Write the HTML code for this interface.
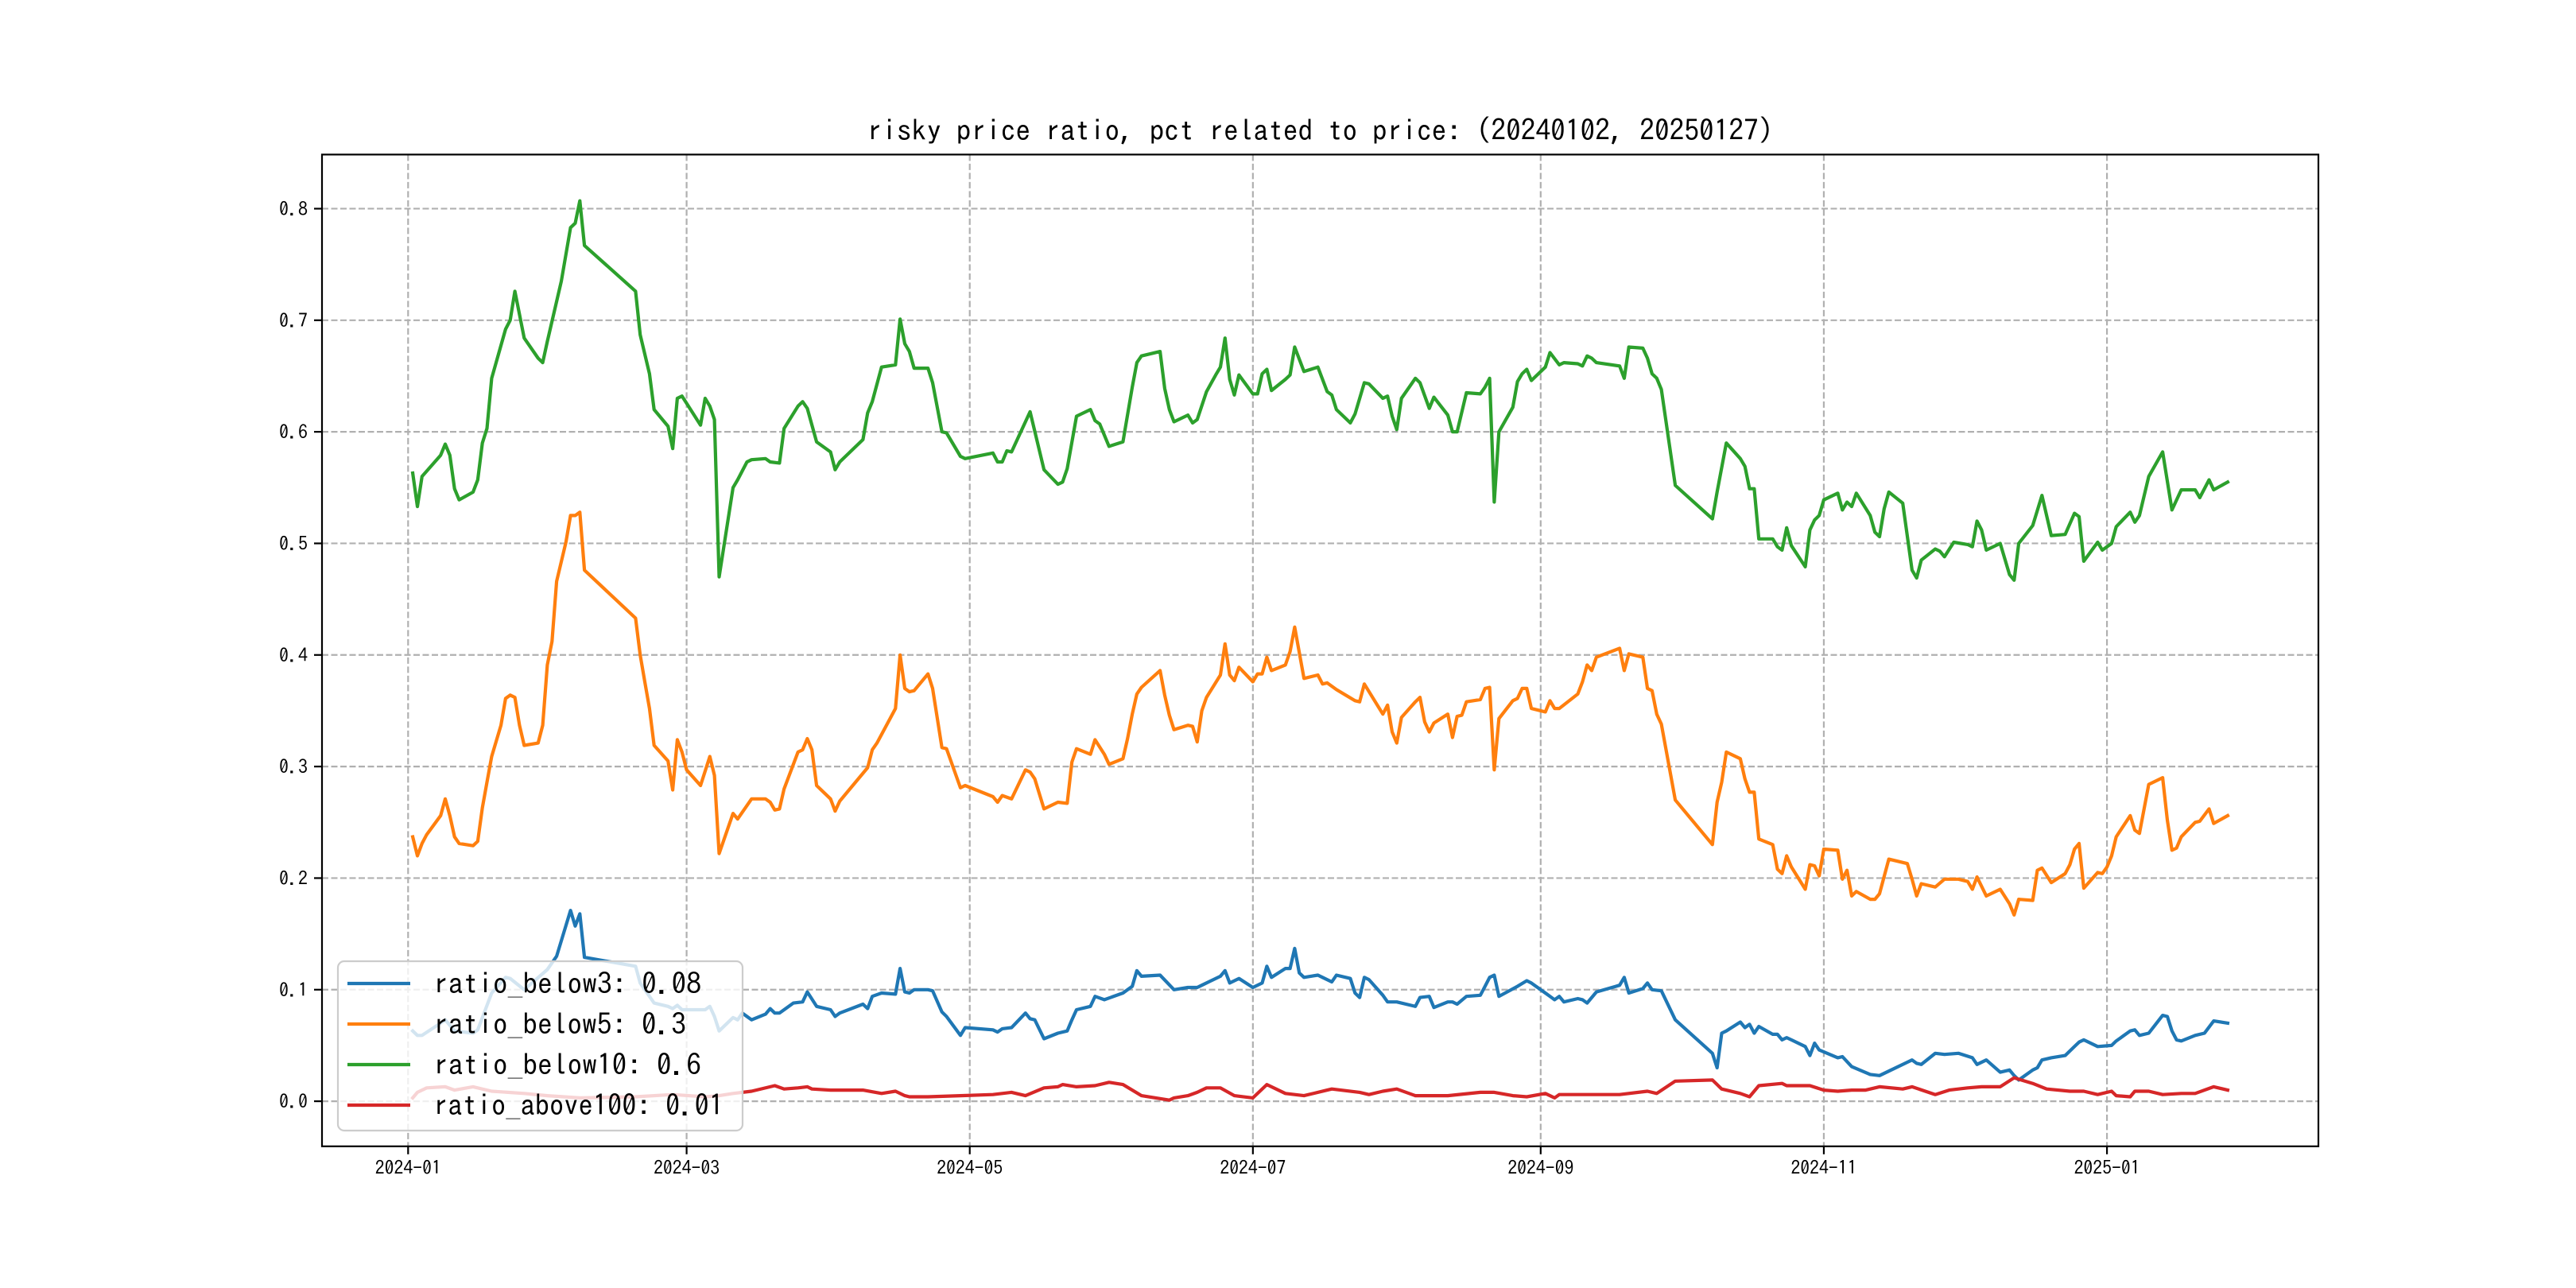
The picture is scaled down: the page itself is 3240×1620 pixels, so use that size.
<!DOCTYPE html>
<html><head><meta charset="utf-8"><style>
html,body{margin:0;padding:0;background:#fff;}
svg{display:block;}
text{font-family:"IPAGothic","WenQuanYi Zen Hei","Liberation Mono",monospace;}
.cj{font-family:"IPAGothic","WenQuanYi Zen Hei","Liberation Mono",monospace;}
</style></head><body>
<svg id="chart" width="3240" height="1620" viewBox="0 0 3240 1620" xmlns="http://www.w3.org/2000/svg">
<rect x="0" y="0" width="3240" height="1620" fill="#fff"/>
<text class="cj" x="1660.5" y="177" text-anchor="middle" font-size="37" textLength="1140" lengthAdjust="spacingAndGlyphs">risky price ratio, pct related to price: (20240102, 20250127)</text>
<g id="grid"></g>
<g id="series"></g>
<rect x="405" y="194.4" width="2511" height="1247.4" fill="none" stroke="#000" stroke-width="2.2"/>
<g id="ticks"></g>
<g id="legend"></g>
</svg>
<script>
// x values: days since 2024-01-01
const xTickDays = [0, 60, 121, 182, 244, 305, 366];
const xTickLabels = ["2024-01","2024-03","2024-05","2024-07","2024-09","2024-11","2025-01"];
const yTicks = [0, 0.1, 0.2, 0.3, 0.4, 0.5, 0.6, 0.7, 0.8];
const yTickLabels = ["0.0","0.1","0.2","0.3","0.4","0.5","0.6","0.7","0.8"];
const seriesNames = ["ratio_below3: 0.08","ratio_below5: 0.3","ratio_below10: 0.6","ratio_above100: 0.01"];

const greenDays = [1,2,3,7,8,9,10,11,14,15,16,17,18,21,22,23,25,28,29,30,33,35,36,37,38,49,50,52,53,56,57,58,59,63,64,65,66,67,70,71,73,74,77,78,80,81,84,85,86,88,91,92,93,98,99,100,102,105,106,107,108,109,112,113,115,116,119,120,126,127,128,129,130,134,137,140,141,142,144,147,148,149,151,154,156,157,158,162,163,164,165,168,169,170,172,174,175,176,177,178,179,182,183,184,185,186,189,190,191,193,196,198,199,200,203,204,206,207,210,211,212,213,214,217,218,220,221,224,225,226,228,231,232,233,234,235,238,239,240,241,242,245,246,248,249,252,253,254,255,256,261,262,263,266,267,268,269,270,273,281,282,284,287,288,289,290,291,294,295,296,297,298,301,302,303,304,305,308,309,310,311,312,315,316,317,318,319,322,324,325,326,329,330,331,333,336,337,338,339,340,343,345,346,347,350,352,354,357,359,360,361,364,365,367,368,371,372,373,375,378,380,382,385,386,388,389,392];
const greenVals = [.563,.533,.560,.579,.589,.579,.549,.539,.546,.557,.590,.603,.648,.692,.700,.726,.684,.666,.662,.681,.735,.783,.787,.807,.767,.726,.687,.652,.620,.605,.585,.630,.632,.606,.630,.623,.611,.470,.550,.557,.573,.575,.576,.573,.572,.603,.623,.627,.621,.591,.582,.566,.573,.593,.617,.627,.658,.660,.701,.679,.672,.657,.657,.644,.600,.599,.578,.576,.581,.573,.573,.583,.582,.618,.566,.553,.555,.567,.614,.620,.610,.607,.587,.591,.640,.662,.668,.672,.639,.620,.609,.615,.608,.611,.636,.651,.658,.684,.647,.633,.651,.634,.634,.652,.656,.637,.647,.651,.676,.654,.658,.636,.633,.620,.608,.616,.644,.643,.630,.632,.614,.602,.630,.648,.644,.621,.631,.615,.600,.600,.635,.634,.640,.648,.537,.600,.622,.645,.652,.656,.646,.658,.671,.660,.662,.661,.659,.668,.666,.662,.659,.648,.676,.675,.666,.652,.648,.638,.552,.522,.546,.590,.576,.569,.549,.549,.504,.504,.497,.494,.514,.498,.479,.512,.521,.525,.539,.545,.530,.537,.533,.545,.525,.510,.506,.531,.546,.536,.476,.469,.485,.495,.493,.488,.501,.499,.497,.520,.512,.494,.500,.472,.467,.500,.516,.543,.507,.508,.527,.524,.484,.501,.494,.500,.515,.528,.519,.525,.560,.582,.530,.548,.548,.541,.557,.548,.555];

const orangeDays = [1,2,3,4,7,8,9,10,11,14,15,16,17,18,20,21,22,23,24,25,28,29,30,31,32,34,35,36,37,38,49,50,51,52,53,56,57,58,59,60,63,65,66,67,70,71,74,77,78,79,80,81,84,85,86,87,88,91,92,93,99,100,101,105,106,107,108,109,112,113,115,116,119,120,126,127,128,130,133,134,135,137,140,142,143,144,147,148,150,151,154,155,156,157,158,162,163,164,165,168,169,170,171,172,175,176,177,178,179,182,183,184,185,186,189,190,191,193,196,197,198,200,204,205,206,210,211,212,213,214,217,218,219,220,221,224,225,226,227,228,231,232,233,234,235,238,239,240,241,242,245,246,247,248,252,253,254,255,256,261,262,263,266,267,268,269,270,273,281,282,283,284,287,288,289,290,291,294,295,296,297,298,301,302,303,304,305,308,309,310,311,312,315,316,317,319,323,324,325,326,329,331,334,336,337,338,340,343,345,346,347,350,351,352,354,357,358,359,360,361,364,365,366,367,368,371,372,373,375,378,379,380,381,382,385,386,388,389,392];
const orangeVals = [.237,.220,.231,.239,.256,.271,.256,.237,.231,.229,.233,.263,.286,.309,.337,.361,.364,.362,.337,.319,.321,.337,.391,.412,.466,.501,.525,.525,.528,.476,.433,.400,.376,.352,.319,.305,.279,.324,.313,.297,.283,.309,.292,.222,.258,.253,.271,.271,.268,.261,.262,.280,.313,.315,.325,.315,.283,.271,.260,.269,.299,.315,.321,.352,.400,.370,.367,.368,.383,.370,.317,.316,.281,.283,.273,.268,.274,.271,.297,.295,.289,.262,.268,.267,.304,.316,.311,.324,.311,.302,.307,.325,.347,.365,.371,.386,.364,.346,.333,.337,.336,.322,.350,.362,.382,.410,.382,.377,.389,.376,.383,.383,.398,.386,.391,.403,.425,.379,.382,.374,.375,.369,.359,.358,.374,.347,.355,.331,.321,.344,.358,.362,.340,.331,.339,.347,.326,.345,.346,.358,.360,.370,.371,.297,.343,.359,.361,.370,.370,.352,.349,.359,.352,.352,.365,.376,.391,.386,.398,.406,.386,.401,.398,.370,.368,.347,.338,.270,.230,.268,.286,.313,.307,.289,.277,.277,.235,.230,.208,.204,.220,.210,.190,.212,.211,.202,.226,.225,.199,.207,.184,.188,.181,.181,.186,.217,.213,.199,.184,.195,.192,.199,.199,.197,.190,.201,.184,.190,.177,.167,.181,.180,.207,.209,.196,.204,.212,.226,.231,.191,.205,.204,.210,.220,.237,.256,.243,.240,.284,.290,.252,.225,.227,.237,.250,.251,.262,.249,.256];

const blueDays = [1,2,3,7,8,10,14,15,18,21,22,25,30,32,35,36,37,38,49,50,53,56,57,58,59,64,65,66,67,70,71,72,73,74,77,78,79,80,83,85,86,88,91,92,93,98,99,100,102,105,106,107,108,109,112,113,115,116,119,120,126,127,128,130,133,134,135,137,140,142,143,144,147,148,150,154,156,157,158,162,165,168,170,171,175,176,177,179,182,184,185,186,189,190,191,192,193,196,197,199,200,203,204,205,206,207,210,211,213,217,218,220,221,224,225,226,228,231,232,233,234,235,239,241,242,245,246,247,248,249,252,253,254,256,261,262,263,266,267,268,270,273,281,282,283,284,287,288,289,290,291,294,295,296,297,298,301,302,303,304,308,309,311,315,317,319,323,324,325,326,329,331,334,337,338,340,343,345,346,347,350,351,352,354,357,359,360,361,364,367,368,371,372,373,375,378,379,380,381,382,385,387,389,392];
const blueVals = [.063,.059,.059,.070,.073,.063,.061,.064,.097,.111,.110,.100,.118,.130,.171,.157,.168,.129,.121,.106,.088,.085,.083,.086,.082,.082,.085,.076,.063,.075,.073,.079,.076,.073,.078,.083,.079,.079,.088,.089,.098,.085,.082,.076,.079,.087,.083,.094,.097,.096,.119,.098,.097,.100,.100,.099,.080,.076,.059,.066,.064,.062,.065,.066,.079,.074,.073,.056,.061,.063,.073,.082,.085,.094,.091,.097,.103,.117,.112,.113,.100,.102,.102,.104,.112,.117,.106,.110,.102,.106,.121,.111,.119,.119,.137,.115,.111,.113,.111,.107,.113,.110,.097,.093,.111,.109,.095,.089,.089,.085,.093,.094,.084,.089,.089,.087,.094,.095,.103,.111,.113,.094,.103,.108,.106,.097,.094,.091,.094,.089,.092,.091,.088,.098,.104,.111,.097,.101,.106,.100,.099,.073,.043,.030,.061,.063,.071,.066,.069,.061,.067,.060,.060,.055,.057,.055,.049,.041,.052,.046,.039,.040,.031,.024,.023,.027,.035,.037,.034,.033,.043,.042,.043,.039,.033,.037,.026,.028,.023,.019,.028,.030,.037,.039,.041,.049,.053,.055,.049,.050,.054,.063,.064,.059,.061,.077,.076,.063,.055,.054,.059,.061,.072,.070,.065];

const redDays = [1,2,4,8,10,14,18,25,30,37,49,57,64,67,70,74,79,81,84,86,87,91,98,102,105,107,108,112,119,126,130,133,137,140,141,144,148,151,154,158,164,165,168,170,172,175,178,182,185,189,193,198,199,205,207,210,213,217,224,231,234,238,241,245,247,248,256,261,267,269,273,281,283,287,289,291,296,297,302,305,308,311,314,317,322,324,329,332,336,339,343,346,350,353,358,361,364,367,368,371,372,375,378,382,385,389,392];
const redVals = [.003,.008,.012,.013,.010,.013,.009,.007,.005,.003,.004,.006,.004,.005,.007,.009,.014,.011,.012,.013,.011,.010,.010,.007,.009,.005,.004,.004,.005,.006,.008,.005,.012,.013,.015,.013,.014,.017,.015,.005,.001,.003,.005,.008,.012,.012,.005,.003,.015,.007,.005,.010,.011,.008,.006,.009,.011,.005,.005,.008,.008,.005,.004,.007,.003,.006,.006,.006,.009,.007,.018,.019,.011,.007,.004,.014,.016,.014,.014,.010,.009,.010,.010,.013,.011,.013,.006,.010,.012,.013,.013,.021,.016,.011,.009,.009,.006,.009,.005,.004,.009,.009,.006,.007,.007,.013,.010];

const X0 = 405, X1 = 2916, Y0 = 194.4, Y1 = 1441.8;
const xMin = -18.55, xMax = 411.55, yMin = -0.0404, yMax = 0.8485;
function xs(d){ return X0 + (d - xMin) / (xMax - xMin) * (X1 - X0); }
function ys(v){ return Y1 - (v - yMin) / (yMax - yMin) * (Y1 - Y0); }
const NS = "http://www.w3.org/2000/svg";
function mk(tag, attrs, parent){ const e = document.createElementNS(NS, tag); for (const k in attrs) e.setAttribute(k, attrs[k]); parent.appendChild(e); return e; }

const grid = document.getElementById('grid');
const ticks = document.getElementById('ticks');
xTickDays.forEach((d, i) => {
  const x = xs(d);
  const g = mk('line', {x1:x, x2:x, y1:Y0, y2:Y1, stroke:'#b0b0b0', 'stroke-width':2.2, 'stroke-dasharray':'8,3.5'}, grid);
  
  
  const t = mk('line', {x1:x, x2:x, y1:Y1, y2:Y1+10, stroke:'#000', 'stroke-width':2.2}, ticks);
  
  
  const l = mk('text', {x:x, y:1477, 'text-anchor':'middle', 'font-size':24, class:'cj', textLength:83, lengthAdjust:'spacingAndGlyphs'}, ticks);
  l.textContent = xTickLabels[i];
  
  
});
yTicks.forEach((v, i) => {
  const y = ys(v);
  const g = mk('line', {x1:X0, x2:X1, y1:y, y2:y, stroke:'#b0b0b0', 'stroke-width':2.2, 'stroke-dasharray':'8,3.5'}, grid);
  
  
  const t = mk('line', {x1:X0-10, x2:X0, y1:y, y2:y, stroke:'#000', 'stroke-width':2.2}, ticks);
  
  
  const l = mk('text', {x:387, y:y+8.5, 'text-anchor':'end', 'font-size':24, class:'cj'}, ticks);
  l.textContent = yTickLabels[i];
  
  
});

const seriesG = document.getElementById('series');
const colors = ['#1f77b4','#ff7f0e','#2ca02c','#d62728'];
const allDays = [blueDays, orangeDays, greenDays, redDays];
const allVals = [blueVals, orangeVals, greenVals, redVals];
const lineNames = ['line-ratio-below3','line-ratio-below5','line-ratio-below10','line-ratio-above100'];
allDays.forEach((days, s) => {
  const pts = days.map((d, i) => xs(d).toFixed(1) + ',' + ys(allVals[s][i]).toFixed(1)).join(' ');
  const p = mk('polyline', {points:pts, fill:'none', stroke:colors[s], 'stroke-width':4.2, 'stroke-linejoin':'round', 'stroke-linecap':'square'}, seriesG);
  
  
});

const leg = document.getElementById('legend');
const box = mk('rect', {x:425, y:1209, width:509, height:213, rx:8, fill:'#fff', 'fill-opacity':0.8, stroke:'#cccccc', 'stroke-width':2.2}, leg);


const rowY = [1237, 1288, 1339, 1390];
const textW = [337, 318, 337, 365];
seriesNames.forEach((n, i) => {
  const ln = mk('line', {x1:437, x2:516, y1:rowY[i], y2:rowY[i], stroke:colors[i], 'stroke-width':4.2}, leg);
  
  
  const t = mk('text', {x:545, y:rowY[i]+13, 'font-size':37, class:'cj', textLength:textW[i], lengthAdjust:'spacingAndGlyphs'}, leg);
  t.textContent = n;
  
  
});
</script>
</body></html>
